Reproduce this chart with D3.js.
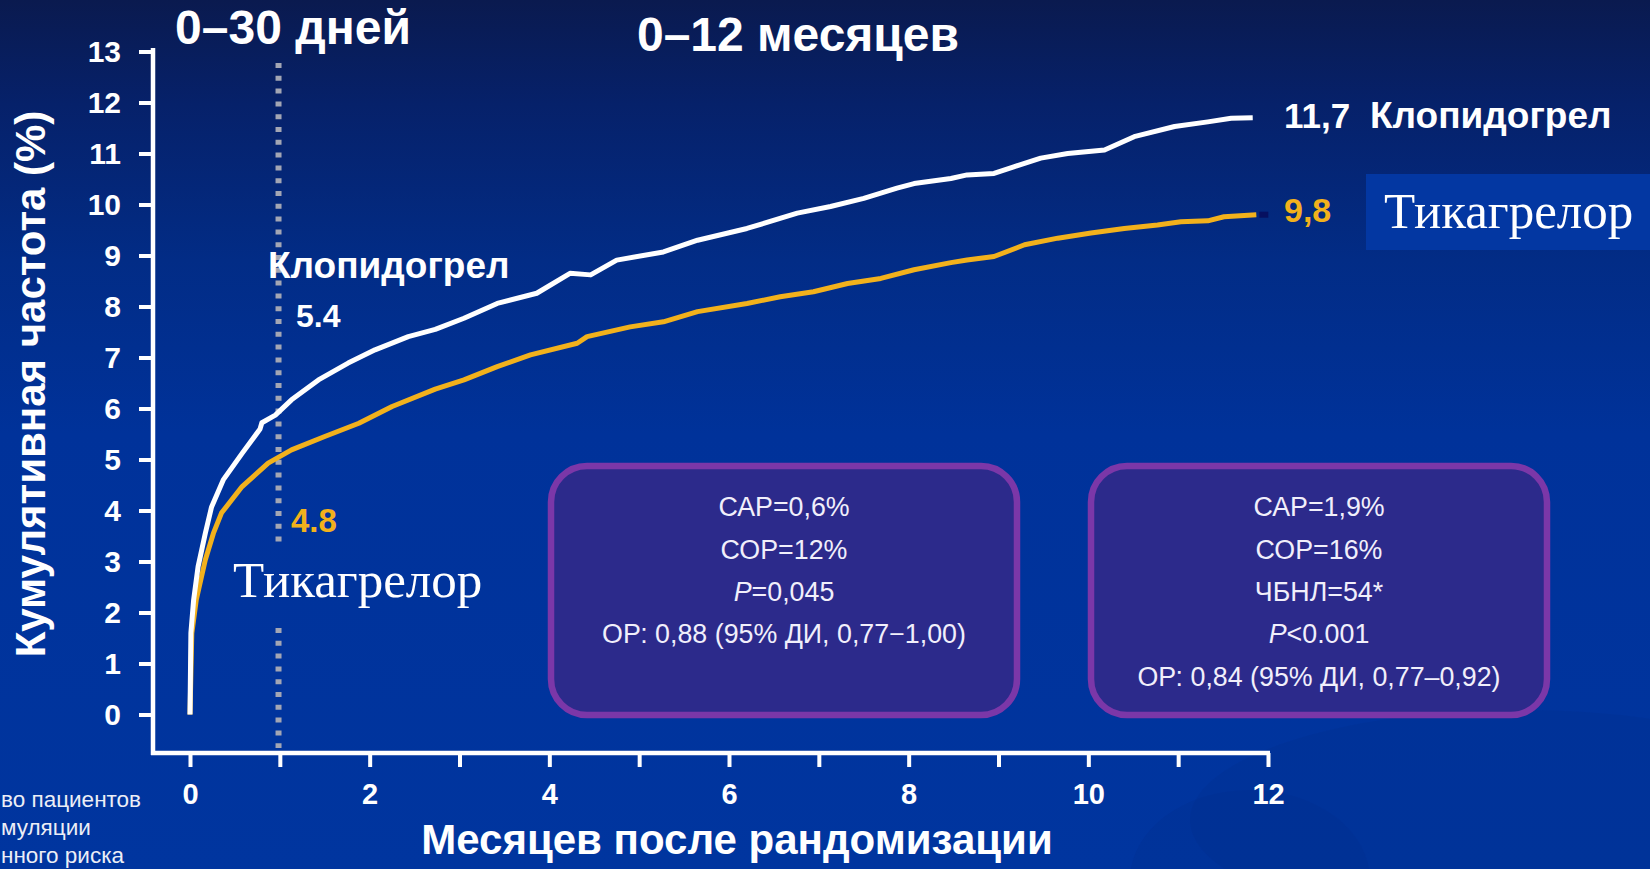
<!DOCTYPE html>
<html><head><meta charset="utf-8">
<script src="https://cdn.jsdelivr.net/npm/d3@7"></script>
<style>
html,body{margin:0;padding:0;background:#00339b;overflow:hidden}
svg{display:block}
</style>
</head><body>
<svg id="chart" width="1650" height="869"></svg>
<script>
// Cumulative event rate (%) by months after randomisation
const clopidogrelMonths = [0, 0.01, 0.04, 0.09, 0.17, 0.24, 0.37, 0.58, 0.78, 0.80, 0.95, 1.13, 1.43, 1.76, 2.06, 2.43, 2.73, 3.05, 3.42, 3.86, 4.23, 4.46, 4.75, 5.27, 5.65, 6.20, 6.76, 7.13, 7.50, 7.87, 8.06, 8.47, 8.65, 8.95, 9.17, 9.47, 9.77, 10.18, 10.51, 10.96, 11.33, 11.59, 11.83];
const clopidogrelRate   = [0, 1.60, 2.24, 2.90, 3.55, 4.07, 4.60, 5.12, 5.60, 5.72, 5.87, 6.17, 6.56, 6.89, 7.15, 7.41, 7.55, 7.77, 8.06, 8.26, 8.65, 8.62, 8.91, 9.07, 9.30, 9.53, 9.83, 9.96, 10.12, 10.32, 10.41, 10.51, 10.58, 10.61, 10.74, 10.91, 11.00, 11.07, 11.33, 11.53, 11.62, 11.69, 11.7];

const ticagrelorMonths = [0, 0.02, 0.07, 0.17, 0.26, 0.35, 0.58, 0.87, 1.13, 1.50, 1.88, 2.25, 2.73, 3.05, 3.42, 3.79, 4.31, 4.42, 4.90, 5.27, 5.65, 6.20, 6.57, 6.94, 7.32, 7.69, 8.06, 8.47, 8.65, 8.95, 9.29, 9.66, 10.03, 10.40, 10.77, 11.03, 11.33, 11.51, 11.87];
const ticagrelorRate   = [0, 1.59, 2.25, 3.03, 3.55, 3.95, 4.47, 4.93, 5.19, 5.45, 5.71, 6.04, 6.38, 6.56, 6.82, 7.05, 7.28, 7.41, 7.60, 7.70, 7.90, 8.06, 8.19, 8.29, 8.45, 8.55, 8.72, 8.86, 8.91, 8.98, 9.21, 9.34, 9.44, 9.53, 9.60, 9.66, 9.68, 9.76, 9.8];

const xTicks = [0, 1, 2, 3, 4, 5, 6, 7, 8, 9, 10, 11, 12];
const xTickLabels = ["0", "", "2", "", "4", "", "6", "", "8", "", "10", "", "12"];
const yTicks = [0, 1, 2, 3, 4, 5, 6, 7, 8, 9, 10, 11, 12, 13];

const landmarkMonth = 30 / 30.44;   // 30 days
const landmarkClopidogrel = "5.4";
const landmarkTicagrelor = "4.8";
const endClopidogrel = "11,7";
const endTicagrelor = "9,8";

const statsEarly = ["САР=0,6%", "СОР=12%", "P=0,045", "ОР: 0,88 (95% ДИ, 0,77−1,00)"];
const statsFull = ["САР=1,9%", "СОР=16%", "ЧБНЛ=54*", "P<0.001", "ОР: 0,84 (95% ДИ, 0,77–0,92)"];
const footnoteLines = ["во пациентов", "муляции", "нного риска"];

const SANS = "'Liberation Sans', Arial, sans-serif";
const SERIF = "'Liberation Serif', 'Times New Roman', serif";
const WHITE = "#ffffff";
const GOLD = "#f2b11c";

const svg = d3.select("#chart");
const W = 1650, H = 869;

// background
const defs = svg.append("defs");
const bg = defs.append("linearGradient").attr("id", "bg").attr("x1", 0).attr("y1", 0).attr("x2", 0).attr("y2", 1);
[[0, "#0a1a4f"], [0.12, "#06216a"], [0.3, "#022c86"], [0.5, "#00329a"], [1, "#00359f"]]
  .forEach(([o, c]) => bg.append("stop").attr("offset", o).attr("stop-color", c));
svg.append("rect").attr("width", W).attr("height", H).attr("fill", "url(#bg)");
svg.append("ellipse").attr("cx", 1520).attr("cy", 820).attr("rx", 330).attr("ry", 110)
  .attr("fill", "#00308f").attr("opacity", 0.35);
svg.append("ellipse").attr("cx", 1250).attr("cy", 880).attr("rx", 120).attr("ry", 90)
  .attr("fill", "#00308f").attr("opacity", 0.3);

// scales
const x = d3.scaleLinear().domain([0, 12]).range([190, 1268]);
const y = d3.scaleLinear().domain([0, 13]).range([714.5, 51.5]);
const axisX = 153, axisY = 753;

// 30-day landmark (dotted)
const dotted = svg.append("g").attr("stroke", "#a3a6b4").attr("stroke-width", 6).attr("stroke-dasharray", "5 7.8");
dotted.append("line").attr("x1", x(landmarkMonth)).attr("x2", x(landmarkMonth)).attr("y1", 63).attr("y2", 542);
dotted.append("line").attr("x1", x(landmarkMonth)).attr("x2", x(landmarkMonth)).attr("y1", 628).attr("y2", 748);

// y axis
const gy = svg.append("g").attr("transform", `translate(${axisX},0)`)
  .call(d3.axisLeft(y).tickValues(yTicks).tickSize(14).tickPadding(18).tickFormat(d3.format("d")));
gy.select(".domain").remove();
gy.selectAll(".tick line").attr("stroke", WHITE).attr("stroke-width", 4);
gy.selectAll(".tick text").attr("fill", WHITE).style("font", `bold 30px ${SANS}`);
svg.append("line").attr("x1", axisX).attr("x2", axisX).attr("y1", 48).attr("y2", axisY + 2)
  .attr("stroke", WHITE).attr("stroke-width", 4.5);

// x axis
const gx = svg.append("g").attr("transform", `translate(0,${axisY})`)
  .call(d3.axisBottom(x).tickValues(xTicks).tickSize(14).tickPadding(16).tickFormat((d, i) => xTickLabels[i]));
gx.select(".domain").remove();
gx.selectAll(".tick line").attr("stroke", WHITE).attr("stroke-width", 4);
gx.selectAll(".tick text").attr("fill", WHITE).style("font", `bold 29px ${SANS}`);
svg.append("line").attr("x1", axisX - 2).attr("x2", x(12) + 2).attr("y1", axisY).attr("y2", axisY)
  .attr("stroke", WHITE).attr("stroke-width", 4.5);

// axis titles
svg.append("text").attr("transform", "translate(45,384) rotate(-90)").attr("text-anchor", "middle")
  .attr("fill", WHITE).style("font", `bold 42px ${SANS}`).text("Кумулятивная частота  (%)");
svg.append("text").attr("x", 737).attr("y", 854).attr("text-anchor", "middle")
  .attr("fill", WHITE).style("font", `bold 42px ${SANS}`).text("Месяцев после рандомизации");

// period headers
svg.append("text").attr("x", 293).attr("y", 44).attr("text-anchor", "middle")
  .attr("fill", WHITE).style("font", `bold 48px ${SANS}`).text("0–30 дней");
svg.append("text").attr("x", 798).attr("y", 51).attr("text-anchor", "middle")
  .attr("fill", WHITE).style("font", `bold 48px ${SANS}`).text("0–12 месяцев");

// curves
const line = d3.line().x(d => x(d[0])).y(d => y(d[1])).curve(d3.curveLinear);
const clopi = clopidogrelMonths.map((m, i) => [m, clopidogrelRate[i]]);
const tica = ticagrelorMonths.map((m, i) => [m, ticagrelorRate[i]]);
svg.append("path").datum(tica).attr("d", line).attr("fill", "none")
  .attr("stroke", GOLD).attr("stroke-width", 5).attr("stroke-linejoin", "round");
svg.append("path").datum(clopi).attr("d", line).attr("fill", "none")
  .attr("stroke", WHITE).attr("stroke-width", 5).attr("stroke-linejoin", "round");
const tEnd = tica[tica.length - 1];
svg.append("rect").attr("x", x(tEnd[0]) + 3).attr("y", y(tEnd[1]) - 3).attr("width", 9).attr("height", 6).attr("fill", "#061060");

// landmark annotations
svg.append("text").attr("x", 268).attr("y", 278).attr("fill", WHITE)
  .style("font", `bold 37px ${SANS}`).text("Клопидогрел");
svg.append("text").attr("x", 296).attr("y", 326.5).attr("fill", WHITE)
  .style("font", `bold 32px ${SANS}`).text(landmarkClopidogrel);
svg.append("text").attr("x", 291).attr("y", 531.5).attr("fill", GOLD)
  .style("font", `bold 33px ${SANS}`).text(landmarkTicagrelor);
svg.append("text").attr("x", 233).attr("y", 596.5).attr("fill", WHITE)
  .style("font", `51px ${SERIF}`).text("Тикагрелор");

// end-of-follow-up labels
svg.append("text").attr("x", 1284).attr("y", 128).attr("fill", WHITE)
  .style("font", `bold 35px ${SANS}`).text(endClopidogrel);
svg.append("text").attr("x", 1370).attr("y", 128).attr("fill", WHITE)
  .style("font", `bold 37px ${SANS}`).text("Клопидогрел");
svg.append("text").attr("x", 1284).attr("y", 222).attr("fill", GOLD)
  .style("font", `bold 34px ${SANS}`).text(endTicagrelor);
svg.append("rect").attr("x", 1366).attr("y", 174).attr("width", 284).attr("height", 76).attr("fill", "#0337a2");
svg.append("text").attr("x", 1384).attr("y", 228).attr("fill", WHITE)
  .style("font", `51px ${SERIF}`).text("Тикагрелор");

// statistics panels
function panel(x0, w, lines) {
  const g = svg.append("g");
  g.append("rect").attr("x", x0 + 3).attr("y", 466).attr("width", w - 6).attr("height", 249).attr("rx", 36)
    .attr("fill", "#2c2a8b").attr("stroke", "#7b37a8").attr("stroke-width", 6.5);
  const cx = x0 + w / 2;
  const ys = [506.7, 550, 591.7, 633.3, 676.7];
  lines.forEach((s, i) => {
    const t = g.append("text").attr("x", cx).attr("y", ys[i] + 9.3).attr("text-anchor", "middle")
      .attr("fill", "#f1effb").style("font", `26.8px ${SANS}`);
    if (s.startsWith("P")) {
      t.append("tspan").style("font-style", "italic").text("P");
      t.append("tspan").text(s.slice(1));
    } else {
      t.text(s);
    }
  });
}
panel(548, 472, statsEarly);
panel(1088, 462, statsFull);

// footnote fragment
const fy = [806.5, 835, 863];
footnoteLines.forEach((s, i) => {
  svg.append("text").attr("x", 1).attr("y", fy[i]).attr("fill", "#eceef6")
    .style("font", `22.5px ${SANS}`).text(s);
});
</script>
</body></html>
